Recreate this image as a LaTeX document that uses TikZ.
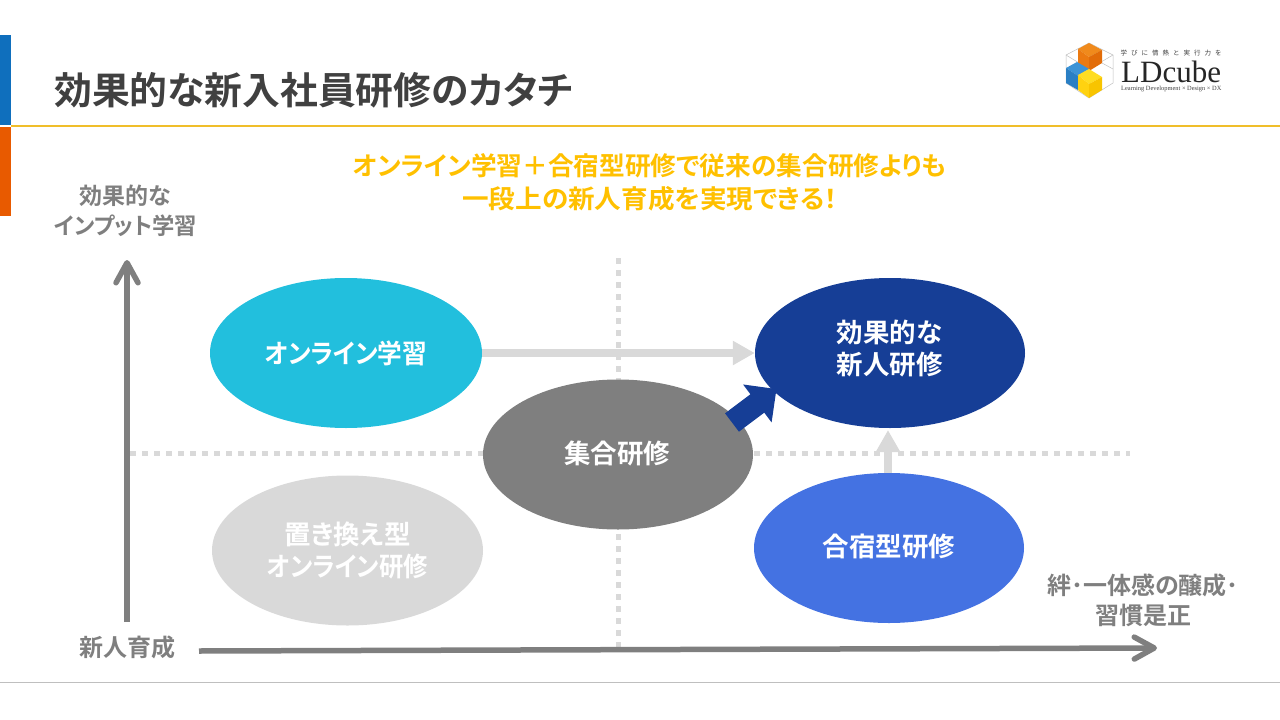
\documentclass[tikz,border=0pt]{standalone}
\usepackage{fontspec}
\usetikzlibrary{arrows.meta,shapes.geometric}
\setmainfont{Noto Sans CJK JP}
\newfontfamily\jpb[RawFeature=+palt]{Noto Sans CJK JP Bold}
\newfontfamily\logofont{Liberation Serif}
\definecolor{barblue}{HTML}{0F6FBD}
\definecolor{barorange}{HTML}{E85A00}
\definecolor{ruleyellow}{HTML}{F0BE2A}
\definecolor{titlegray}{HTML}{404040}
\definecolor{headyellow}{HTML}{FFC000}
\definecolor{axisgray}{HTML}{7F7F7F}
\definecolor{lightgray2}{HTML}{D9D9D9}
\definecolor{cyanfill}{HTML}{22BFDD}
\definecolor{navyfill}{HTML}{163E96}
\definecolor{bluefill}{HTML}{4472E2}
\definecolor{footgray}{HTML}{BFBFBF}
\definecolor{orangetop}{HTML}{F08A1C}
\definecolor{orangeleft}{HTML}{EC7A10}
\definecolor{orangeright}{HTML}{E26C08}
\definecolor{bluetop}{HTML}{3C93D6}
\definecolor{blueleft}{HTML}{2A7FC4}
\definecolor{yellowtop}{HTML}{FFDD22}
\definecolor{yellowleft}{HTML}{FFD210}
\definecolor{yellowright}{HTML}{F8C400}
\tikzset{
  oval/.style={ellipse,minimum width=#1,minimum height=150pt,inner sep=0pt,align=center,text=white,font=\jpb\fontsize{26.5}{32}\selectfont},
  ovaltext/.style={inner sep=0pt,align=center,text=white,font=\jpb\fontsize{26.5}{32}\selectfont},
  axislabel/.style={text=axisgray,align=center,inner sep=0pt,font=\jpb\fontsize{#1}{30}\selectfont},
  axislabel/.default=23,
  dots/.style={lightgray2,line width=5pt,dash pattern=on 5.5pt off 6.5pt},
  flow/.style={lightgray2,line width=8pt,-{Triangle[width=23pt,length=22pt]}},
  axisline/.style={axisgray,line width=5.5pt,-{Straight Barb[round,width=22pt,length=20pt]}},
  wire/.style={footgray,line width=0.5pt},
}
\begin{document}
\begin{tikzpicture}[x=1pt,y=-1pt]
\useasboundingbox (0,0) rectangle (1280,720);
\fill[barblue] (0,35) rectangle (11,125);
\fill[barorange] (0,127) rectangle (11,216);
\draw[ruleyellow,line width=2pt] (11,126) -- (1280,126);
\draw[footgray,line width=1pt] (0,682) -- (1280,682);
\node[anchor=west,inner sep=0pt,text=titlegray,font=\jpb\fontsize{37.8}{38}\selectfont] (title) at (54,90) {効果的な新入社員研修のカタチ};
\node[inner sep=0pt,align=center,text=headyellow,font=\jpb\fontsize{25.7}{33}\selectfont] (head) at (650,182) {オンライン学習＋合宿型研修で従来の集合研修よりも\\\scalebox{1.035}[1]{一段上の新人育成を実現できる！}};
\node[axislabel] (ylabel) at (125.5,210.5) {効果的な\\\scalebox{0.97}[1]{インプット学習}};
\node[axislabel=24] (origin) at (127,647) {新人育成};
\node[axislabel=24] (xlabel) at (1143,600) {絆･一体感の醸成･\\習慣是正};
\draw[dots] (618,258) -- (618,650);
\draw[dots] (130,453) -- (1130,453);
\node[oval=272pt,fill=cyanfill] (online) at (346,353) {\scalebox{0.93}[1]{オンライン学習}};
\node[oval=270pt,fill=navyfill] (effective) at (890,353) {};
\node[ovaltext] (effectivetext) at (889.5,348.5) {効果的な\\新人研修};
\node[oval=270pt,fill=axisgray] (group) at (618,454.5) {};
\node[ovaltext] (grouptext) at (617,453) {集合研修};
\node[oval=271pt,fill=lightgray2] (replace) at (347.5,550.5) {置き換え型\\\scalebox{0.92}[1]{オンライン研修}};
\node[oval=270pt,fill=bluefill] (camp) at (889,548) {};
\node[ovaltext] (camptext) at (889,546.5) {合宿型研修};
\coordinate (ystart) at (127,622);
\coordinate (yend) at (127,260);
\coordinate (xstart) at (199,651);
\coordinate (xend) at (1157,648);
\draw[axisline] (ystart) -- (yend);
\draw[axisline] (xstart) -- (xend);
\draw[flow] (online.east) -- (effective.west);
\draw[flow] (camp.north -| 888,0) -- (888,430);
\coordinate (navystart) at (732,422.5);
\coordinate (navytip) at (776.5,389);
\draw[navyfill,line width=23pt,-{Triangle[width=46pt,length=24pt]}] (navystart) -- (navytip);
% logo
\draw[wire] (1089,43) -- (1113,55) -- (1113,83) -- (1089,98) -- (1066,83) -- (1066,55) -- cycle;
\draw[wire] (1066,55) -- (1089,69) -- (1113,55) (1089,69) -- (1089,98) (1078,49) -- (1102,63) (1102,50) -- (1078,63) (1102,63) -- (1113,69) (1066,69) -- (1078,76);
% orange cube
\fill[orangetop] (1078,49) -- (1089,43) -- (1102,50) -- (1089,57) -- cycle;
\fill[orangeleft] (1078,49) -- (1089,57) -- (1089,71) -- (1078,63) -- cycle;
\fill[orangeright] (1102,50) -- (1089,57) -- (1089,71) -- (1102,63) -- cycle;
% blue cube
\fill[bluetop] (1066,68) -- (1077,62) -- (1089,69) -- (1078,76) -- cycle;
\fill[blueleft] (1066,68) -- (1078,76) -- (1078,90) -- (1066,83) -- cycle;
% yellow cube
\fill[yellowtop] (1078,75) -- (1089,69) -- (1102,77) -- (1089,84) -- cycle;
\fill[yellowleft] (1078,75) -- (1089,84) -- (1089,98) -- (1078,90) -- cycle;
\fill[yellowright] (1102,77) -- (1089,84) -- (1089,98) -- (1102,90) -- cycle;
\node[anchor=base west,inner sep=0pt,text=black!85,font=\logofont\fontsize{31}{31}\selectfont] (logoname) at (1121,82) {LDcube};
\node[anchor=base west,inner sep=0pt,text=black!75,font=\logofont\fontsize{6.4}{7}\selectfont] (logosub) at (1121,90.5) {Learning Development × Design × DX};
\node[anchor=center,inner sep=0pt,text=black!75,font=\fontsize{6.5}{7}\selectfont] (logotag) at (1171,53) {学\hspace{4pt}び\hspace{4pt}に\hspace{4pt}情\hspace{4pt}熱\hspace{4pt}と\hspace{4pt}実\hspace{4pt}行\hspace{4pt}力\hspace{4pt}を};
\end{tikzpicture}
\end{document}
